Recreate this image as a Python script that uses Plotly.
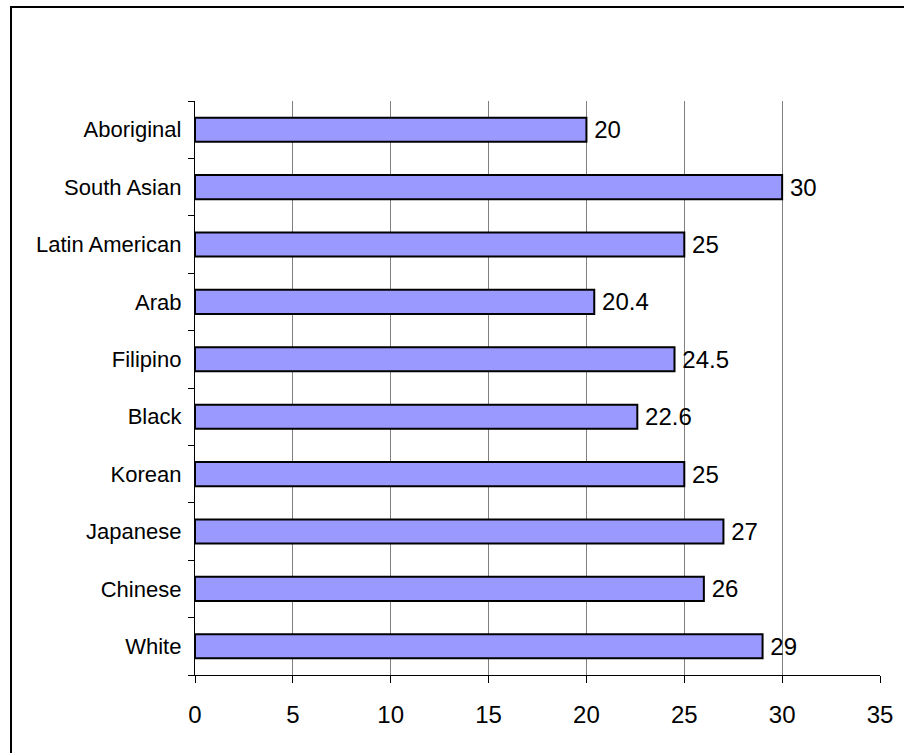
import plotly.graph_objects as go

# Median age by group (top to bottom as listed)
groups = ["Aboriginal", "South Asian", "Latin American", "Arab", "Filipino",
          "Black", "Korean", "Japanese", "Chinese", "White"]
values = [20, 30, 25, 20.4, 24.5, 22.6, 25, 27, 26, 29]
x_ticks = [0, 5, 10, 15, 20, 25, 30, 35]

W, H = 904, 753
ML, MR, MT, MB = 195, 24, 101, 78
PW, PH = W - ML - MR, H - MT - MB

fig = go.Figure(go.Bar(
    x=values,
    y=groups,
    orientation="h",
    marker=dict(color="#9999ff", line=dict(color="black", width=2)),
    text=["\u2009" + f"{v:g}" for v in values],
    textposition="outside",
    textfont=dict(family="Liberation Sans, Arial", size=24, color="black"),
    constraintext="none",
    cliponaxis=False,
    width=0.42,
))

fig.update_layout(
    width=W, height=H,
    margin=dict(l=ML, r=MR, t=MT, b=MB),
    paper_bgcolor="white",
    plot_bgcolor="white",
    showlegend=False,
    font=dict(family="Liberation Sans, Arial", color="black"),
    xaxis=dict(
        range=[0, 35],
        tickvals=x_ticks,
        showgrid=True, gridcolor="#808080", gridwidth=1.3,
        zeroline=False,
        showline=True, linecolor="black", linewidth=1.3,
        ticks="outside", ticklen=7, tickcolor="black", tickwidth=1.3,
        tickfont=dict(size=24),
        ticklabelstandoff=11,
    ),
    yaxis=dict(
        categoryorder="array",
        categoryarray=list(reversed(groups)),
        range=[-0.5, len(groups) - 0.5],
        showgrid=False,
        zeroline=False,
        showline=True, linecolor="black", linewidth=1.3,
        ticks="outside", ticklen=6, tickcolor="black", tickwidth=1.3,
        tickson="boundaries",
        tickfont=dict(size=22),
        ticklabelstandoff=8,
    ),
    shapes=[
        dict(type="rect", xref="paper", yref="paper",
             x0=(11 - ML) / PW, x1=(W + 20 - ML) / PW,
             y0=(H - MB - (H + 20)) / PH, y1=(H - MB - 7) / PH,
             line=dict(color="black", width=2), layer="above"),
    ],
)

fig.write_html("out.html")
